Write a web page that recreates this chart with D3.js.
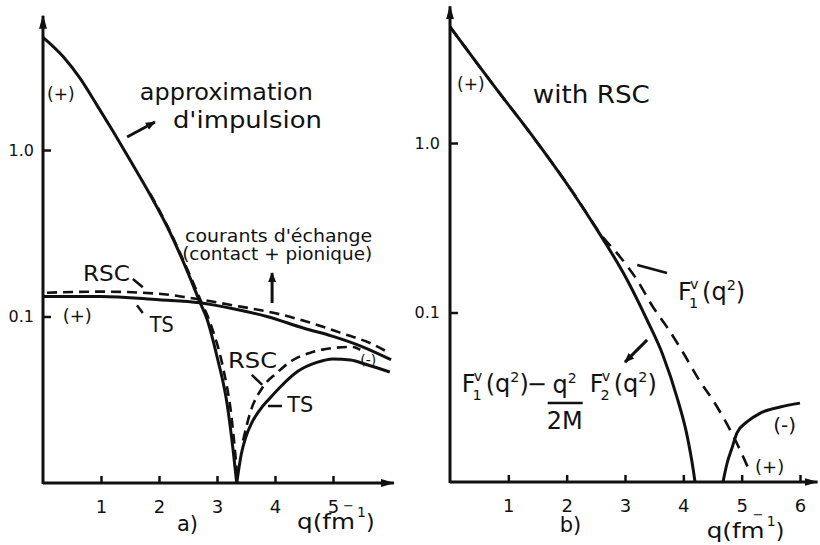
<!DOCTYPE html>
<html>
<head>
<meta charset="utf-8">
<script src="https://cdn.jsdelivr.net/npm/d3@7"></script>
<style>
  body { margin: 0; background: #fff; }
  text { font-family: "DejaVu Sans", sans-serif; fill: #111; }
</style>
</head>
<body>
<div id="chart-area"></div>
<script>
// ---- data ----
// panel a) impulse approximation (TS, solid), left branch down to the zero
var qImpA = [0, 0.35, 0.64, 0.93, 1.21, 1.5, 1.85, 2.14, 2.48, 2.71, 2.83, 3.0, 3.17, 3.28, 3.34];
var fImpA = [4.75, 3.63, 2.69, 1.86, 1.29, 0.871, 0.537, 0.347, 0.19, 0.121, 0.096, 0.0575, 0.0305, 0.0155, 0.01];
// branch after the zero, TS (solid)
var qTsA = [3.34, 3.42, 3.5, 3.6, 3.74, 3.9, 4.1, 4.4, 4.72, 5.0, 5.3, 5.6, 5.98];
var fTsA = [0.01, 0.015, 0.019, 0.023, 0.0275, 0.032, 0.038, 0.047, 0.053, 0.0556, 0.0548, 0.0511, 0.0464];
// RSC (dashed), along the first branch and after the zero
var qRscA1 = [1.85, 2.14, 2.48, 2.71, 2.9, 3.1, 3.25, 3.36];
var fRscA1 = [0.545, 0.352, 0.195, 0.127, 0.088, 0.05, 0.025, 0.01];
var qRscA2 = [3.45, 3.57, 3.79, 4.03, 4.31, 4.6, 5.0, 5.34, 5.47];
var fRscA2 = [0.018, 0.0263, 0.0377, 0.0458, 0.0548, 0.0604, 0.0647, 0.0656, 0.063];
// exchange currents (contact + pionic)
var qExTs = [0, 1.0, 2.0, 2.7, 3.3, 3.86, 4.5, 5.0, 5.5, 6.0];
var fExTs = [0.132, 0.132, 0.126, 0.121, 0.111, 0.100, 0.085, 0.076, 0.066, 0.055];
var qExRsc = [0.07, 1.0, 2.0, 2.5, 3.2, 4.09, 4.6, 5.12, 5.69, 5.95];
var fExRsc = [0.139, 0.141, 0.137, 0.130, 0.118, 0.103, 0.092, 0.080, 0.068, 0.061];

// panel b) with RSC
var qMagB = [0, 0.51, 0.81, 1.37, 2.11, 2.49, 3.04, 3.38, 3.65, 3.89, 4.07, 4.17, 4.2];
var fMagB = [4.85, 2.81, 2.05, 1.15, 0.507, 0.32, 0.155, 0.090, 0.056, 0.0317, 0.0184, 0.0118, 0.01];
var qF1B = [0, 0.51, 0.81, 1.37, 2.11, 2.62, 2.92, 3.21, 3.48, 3.72, 4.0, 4.24, 4.58, 4.89, 5.15];
var fF1B = [4.85, 2.81, 2.05, 1.15, 0.51, 0.279, 0.212, 0.155, 0.1077, 0.082, 0.0577, 0.0416, 0.0277, 0.0177, 0.0113];
var qNegB = [4.68, 4.75, 4.84, 4.92, 5.09, 5.32, 5.66, 6.0];
var fNegB = [0.01, 0.0129, 0.0161, 0.0195, 0.0226, 0.0255, 0.0277, 0.0292];

var xTicksA = [1, 2, 3, 4, 5];
var xTicksB = [1, 2, 3, 4, 5, 6];
var yTicks = [0.1, 1];
var yTickLabels = ["0.1", "1.0"];

var ink = "#111";

var svg = d3.select("#chart-area")
    .append("svg")
        .attr("width", 820)
        .attr("height", 545);

var defs = svg.append("defs");
defs.append("marker")
    .attr("id", "axHead")
    .attr("markerUnits", "userSpaceOnUse")
    .attr("viewBox", "0 -5 14 10")
    .attr("refX", 13).attr("refY", 0)
    .attr("markerWidth", 14).attr("markerHeight", 10)
    .attr("orient", "auto")
  .append("path")
    .attr("d", "M0,-4L14,0L0,4Z")
    .attr("fill", ink);
defs.append("marker")
    .attr("id", "head")
    .attr("markerUnits", "userSpaceOnUse")
    .attr("viewBox", "0 -5 10 10")
    .attr("refX", 9).attr("refY", 0)
    .attr("markerWidth", 10).attr("markerHeight", 10)
    .attr("orient", "auto")
  .append("path")
    .attr("d", "M0,-4L10,0L0,4Z")
    .attr("fill", ink);

// scales
var xA = d3.scaleLinear().domain([0, 6]).range([43, 391]);
var yA = d3.scaleLog().domain([0.01, 1]).range([483, 150]);
var xB = d3.scaleLinear().domain([0, 6]).range([450, 800]);
var yB = d3.scaleLog().domain([0.01, 1]).range([482, 143]);

function zip(qs, fs) {
    return qs.map(function(q, i){ return { q: q, f: fs[i] }; });
}

function panel(x, y, xTicks, xEnd, yPad) {
    var g = svg.append("g");

    // axes lines with arrows
    g.append("line")
        .attr("x1", x(0)).attr("y1", y(0.01))
        .attr("x2", x(xEnd)).attr("y2", y(0.01))
        .attr("stroke", ink).attr("stroke-width", 3)
        .attr("marker-end", "url(#axHead)");
    g.append("line")
        .attr("x1", x(0)).attr("y1", y(0.01) + 1)
        .attr("x2", x(0)).attr("y2", y(6.4))
        .attr("stroke", ink).attr("stroke-width", 3)
        .attr("marker-end", "url(#axHead)");

    var xAxisCall = d3.axisBottom(x)
        .tickValues(xTicks)
        .tickFormat(d3.format("d"))
        .tickSize(-7)
        .tickPadding(17);
    g.append("g")
        .attr("transform", "translate(0," + y(0.01) + ")")
        .call(xAxisCall)
        .call(function(a){ a.select(".domain").remove(); })
        .call(function(a){
            a.selectAll("line").attr("stroke", ink).attr("stroke-width", 2.5);
            a.selectAll("text").attr("font-size", "18px").attr("font-family", "DejaVu Sans").attr("fill", ink);
        });

    var yAxisCall = d3.axisLeft(y)
        .tickValues(yTicks)
        .tickFormat(function(d, i){ return yTickLabels[i]; })
        .tickSize(-8)
        .tickPadding(yPad);
    g.append("g")
        .attr("transform", "translate(" + x(0) + ",0)")
        .call(yAxisCall)
        .call(function(a){ a.select(".domain").remove(); })
        .call(function(a){
            a.selectAll("line").attr("stroke", ink).attr("stroke-width", 2.5);
            a.selectAll("text").attr("font-size", "16px").attr("font-family", "DejaVu Sans").attr("fill", ink);
        });
    return g;
}

var gA = panel(xA, yA, xTicksA, 6.05, 9);
var gB = panel(xB, yB, xTicksB, 6.3, 10);

function curve(g, x, y, data, dash, width) {
    var line = d3.line()
        .x(function(d){ return x(d.q); })
        .y(function(d){ return y(d.f); })
        .curve(d3.curveMonotoneX);
    g.append("path")
        .datum(data)
        .attr("d", line)
        .attr("fill", "none")
        .attr("stroke", ink)
        .attr("stroke-width", width || 3)
        .attr("stroke-linejoin", "round")
        .attr("stroke-dasharray", dash || null);
}

// panel a curves
curve(gA, xA, yA, zip(qExRsc, fExRsc), "10,6", 2.6);
curve(gA, xA, yA, zip(qExTs, fExTs));
curve(gA, xA, yA, zip(qRscA1, fRscA1), "10,6", 2.6);
curve(gA, xA, yA, zip(qRscA2, fRscA2), "10,6", 2.6);
curve(gA, xA, yA, zip(qImpA, fImpA));
curve(gA, xA, yA, zip(qTsA, fTsA));

// panel b curves
curve(gB, xB, yB, zip(qF1B, fF1B), "12,8", 2.6);
curve(gB, xB, yB, zip(qMagB, fMagB));
curve(gB, xB, yB, zip(qNegB, fNegB));

// ---- annotations ----
function label(g, x, y, q, f, txt, size, len) {
    var t = g.append("text")
        .attr("x", x(q)).attr("y", y(f))
        .attr("font-size", size + "px")
        .text(txt);
    if (len) t.attr("textLength", len).attr("lengthAdjust", "spacingAndGlyphs");
    return t;
}
function pointer(g, x, y, q1, f1, q2, f2, arrow, w) {
    g.append("line")
        .attr("x1", x(q1)).attr("y1", y(f1))
        .attr("x2", x(q2)).attr("y2", y(f2))
        .attr("stroke", ink).attr("stroke-width", w || 2.5)
        .attr("marker-end", arrow ? "url(#head)" : null);
}
// F with sub / superscript, then (q^2)
function formF(g, px, py, sub, s) {
    g.append("text").attr("x", px).attr("y", py).attr("font-size", s + "px").text("F");
    g.append("text").attr("x", px + 0.45 * s).attr("y", py + 0.32 * s).attr("font-size", (0.6 * s) + "px").text(sub);
    g.append("text").attr("x", px + 0.5 * s).attr("y", py - 0.45 * s).attr("font-size", (0.6 * s) + "px").text("v");
    var t = g.append("text").attr("x", px + 1.0 * s).attr("y", py).attr("font-size", s + "px");
    t.append("tspan").text("(q");
    t.append("tspan").attr("dy", -0.4 * s).attr("font-size", (0.6 * s) + "px").text("2");
    t.append("tspan").attr("dy", 0.4 * s).text(")");
}
// q(fm^-1) axis caption, the minus sits over the m
function qCaption(g, px, py) {
    g.append("text").attr("x", px).attr("y", py).attr("font-size", "22px")
        .attr("textLength", 58).attr("lengthAdjust", "spacingAndGlyphs").text("q(fm");
    g.append("text").attr("x", px + 46).attr("y", py - 19).attr("font-size", "13px").text("−");
    g.append("text").attr("x", px + 60).attr("y", py - 12).attr("font-size", "14px").text("1");
    g.append("text").attr("x", px + 69).attr("y", py).attr("font-size", "22px").text(")");
}

// panel a labels
label(gA, xA, yA, 0.07, 2.0, "(+)", 17);
label(gA, xA, yA, 1.67, 2.0, "approximation", 23, 173);
label(gA, xA, yA, 2.24, 1.355, "d'impulsion", 23, 149);
pointer(gA, xA, yA, 1.45, 1.197, 1.93, 1.472, true, 3);
label(gA, xA, yA, 2.45, 0.28, "courants d'échange", 18, 187);
label(gA, xA, yA, 2.40, 0.218, "(contact + pionique)", 18, 190);
pointer(gA, xA, yA, 3.95, 0.1205, 3.95, 0.1824, true, 3);
label(gA, xA, yA, 0.69, 0.163, "RSC", 22, 47);
pointer(gA, xA, yA, 1.55, 0.168, 1.72, 0.150, false);
label(gA, xA, yA, 0.34, 0.0927, "(+)", 18);
label(gA, xA, yA, 1.84, 0.0807, "TS", 22, 24);
pointer(gA, xA, yA, 1.62, 0.117, 1.72, 0.105, false);
label(gA, xA, yA, 3.19, 0.0491, "RSC", 22, 49);
pointer(gA, xA, yA, 3.60, 0.0446, 3.78, 0.0388, false);
label(gA, xA, yA, 4.21, 0.0267, "TS", 22, 26);
pointer(gA, xA, yA, 3.88, 0.029, 4.12, 0.029, false);
label(gA, xA, yA, 5.47, 0.0512, "(-)", 14);

// panel a captions
gA.append("text").attr("x", xA(2.31)).attr("y", 531).attr("font-size", "21px").text("a)");
qCaption(gA, xA(4.38), 529);

// panel b labels
label(gB, xB, yB, 0.12, 2.056, "(+)", 17);
label(gB, xB, yB, 1.42, 1.72, "with RSC", 24, 117);
formF(gB, xB(3.91), yB(0.1186), "1", 24);
pointer(gB, xB, yB, 3.21, 0.1905, 3.72, 0.171, false);
// F1 - q^2/2M F2 formula
var ax = xB(0.2), ay = yB(0.034);
formF(gB, ax, ay, "1", 24);
gB.append("text").attr("x", ax + 65).attr("y", ay).attr("font-size", "24px").text("−");
var num = gB.append("text").attr("x", ax + 103).attr("y", ay + 1).attr("font-size", "24px").attr("text-anchor", "middle");
num.append("tspan").text("q");
num.append("tspan").attr("dy", -10).attr("font-size", "14px").text("2");
gB.append("line")
    .attr("x1", ax + 86).attr("x2", ax + 121)
    .attr("y1", ay + 11).attr("y2", ay + 11)
    .attr("stroke", ink).attr("stroke-width", 2.5);
gB.append("text").attr("x", ax + 103).attr("y", ay + 37).attr("font-size", "24px").attr("text-anchor", "middle").text("2M");
formF(gB, ax + 128, ay, "2", 24);
pointer(gB, xB, yB, 3.38, 0.0689, 3.0, 0.051, true, 3);
label(gB, xB, yB, 5.54, 0.0197, "(-)", 20);
label(gB, xB, yB, 5.23, 0.0113, "(+)", 18);

// panel b captions
gB.append("text").attr("x", xB(1.88)).attr("y", 532).attr("font-size", "21px").text("b)");
qCaption(gB, xB(4.4), 538);
</script>
</body>
</html>
